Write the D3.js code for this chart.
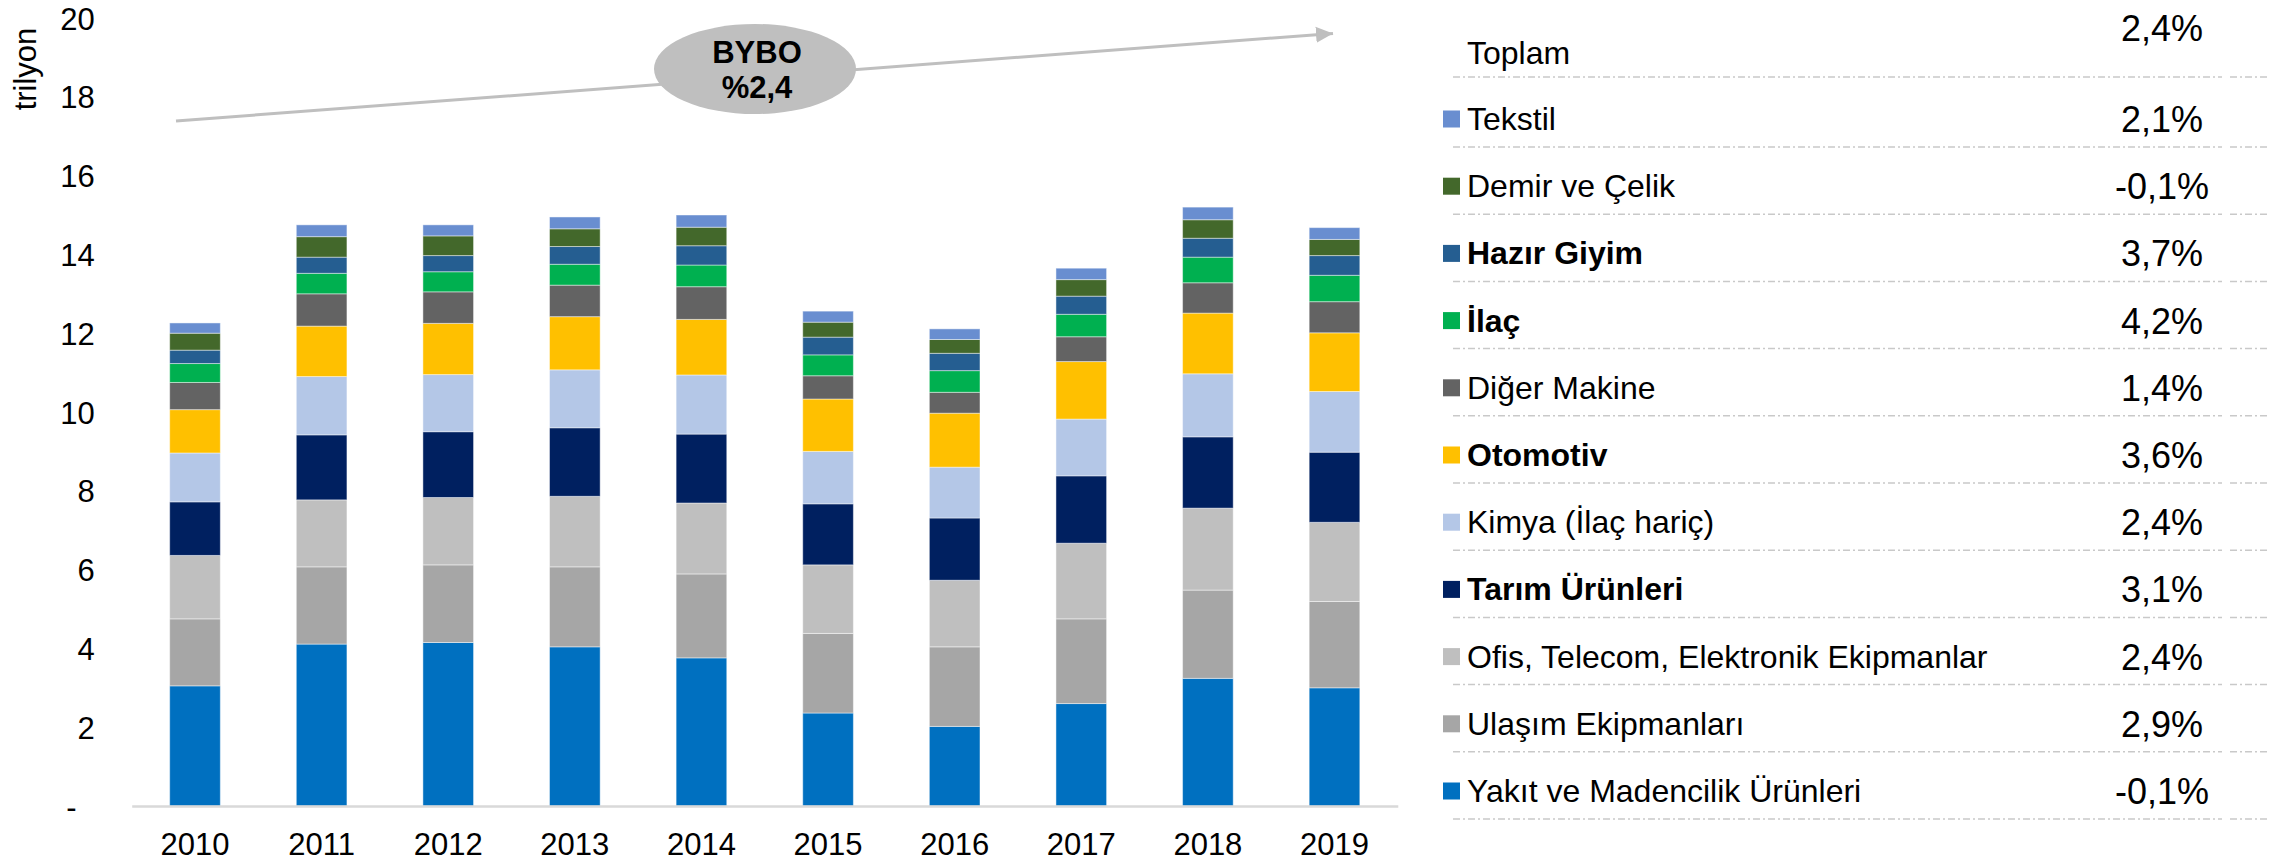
<!DOCTYPE html>
<html>
<head>
<meta charset="utf-8">
<script src="https://cdn.jsdelivr.net/npm/d3@7"></script>
<style>
  body { margin: 0; background: #fff; }
  svg text { font-family: Arial, "Liberation Sans", sans-serif; fill: #000; }
</style>
</head>
<body>
<div id="content"></div>
<script>
// data (trilyon)
var years       = ["2010","2011","2012","2013","2014","2015","2016","2017","2018","2019"];
var totalLabels = [15, 18, 19, 19, 19, 17, 16, 18, 19, 19];

var yakit       = [3.05, 4.11, 4.15, 4.04, 3.76, 2.36, 2.02, 2.60, 3.24, 3.00];
var ulasim      = [1.70, 1.96, 1.97, 2.03, 2.13, 2.02, 2.02, 2.15, 2.24, 2.19];
var ofis        = [1.61, 1.70, 1.71, 1.79, 1.80, 1.74, 1.69, 1.92, 2.08, 2.01];
var tarim       = [1.36, 1.65, 1.67, 1.74, 1.75, 1.55, 1.58, 1.71, 1.81, 1.78];
var kimya       = [1.24, 1.48, 1.45, 1.47, 1.50, 1.33, 1.29, 1.44, 1.60, 1.54];
var otomotiv    = [1.10, 1.28, 1.30, 1.35, 1.41, 1.33, 1.37, 1.46, 1.54, 1.49];
var digerMakine = [0.69, 0.82, 0.80, 0.80, 0.83, 0.59, 0.53, 0.63, 0.77, 0.79];
var ilac        = [0.48, 0.52, 0.51, 0.53, 0.55, 0.53, 0.55, 0.57, 0.65, 0.67];
var hazirGiyim  = [0.34, 0.41, 0.41, 0.45, 0.49, 0.45, 0.44, 0.46, 0.48, 0.50];
var demirCelik  = [0.43, 0.52, 0.50, 0.45, 0.47, 0.38, 0.35, 0.42, 0.47, 0.41];
var tekstil     = [0.26, 0.30, 0.28, 0.30, 0.31, 0.28, 0.27, 0.29, 0.32, 0.30];

// stack order, bottom to top
var seriesKeys   = ["yakit","ulasim","ofis","tarim","kimya","otomotiv","digerMakine","ilac","hazirGiyim","demirCelik","tekstil"];
var seriesValues = [yakit, ulasim, ofis, tarim, kimya, otomotiv, digerMakine, ilac, hazirGiyim, demirCelik, tekstil];
var seriesNames  = ["Yakıt ve Madencilik Ürünleri","Ulaşım Ekipmanları","Ofis, Telecom, Elektronik Ekipmanlar",
                    "Tarım Ürünleri","Kimya (İlaç hariç)","Otomotiv","Diğer Makine","İlaç","Hazır Giyim",
                    "Demir ve Çelik","Tekstil"];
var seriesGrowth = ["-0,1%","2,9%","2,4%","3,1%","2,4%","3,6%","1,4%","4,2%","3,7%","-0,1%","2,1%"];
var seriesBold   = [false, false, false, true, false, true, false, true, true, false, false];
var colors       = ["#0070c0","#a6a6a6","#bfbfbf","#002060","#b4c7e7","#ffc000","#636363","#00b050","#255e91","#43682b","#698ed0"];

var totalName   = "Toplam";
var totalGrowth = "2,4%";
var cagrTitle   = "BYBO";
var cagrValue   = "%2,4";
var yTicks      = [0, 2, 4, 6, 8, 10, 12, 14, 16, 18, 20];

var W = 2295, H = 861;
var svg = d3.select("#content").append("svg")
    .attr("width", W)
    .attr("height", H);

var fs = 31;
var legFs = 32;

var x = d3.scaleBand().domain(years).range([131.7, 1397.8]).paddingInner(0.6).paddingOuter(0.3);
var y = d3.scaleLinear().domain([0, 20]).range([806, 18]);

// rows for the stack
var rows = years.map(function(yr, i){
    var r = {year: yr};
    seriesKeys.forEach(function(k, j){ r[k] = seriesValues[j][i]; });
    return r;
});
var stacked = d3.stack().keys(seriesKeys)(rows);

//y axis
var yAxis = svg.append("g")
    .attr("transform", "translate(131.7,0)")
    .call(d3.axisLeft(y).tickValues(yTicks).tickSize(0).tickPadding(37)
        .tickFormat(function(d){ return d === 0 ? "-" : d; }));
yAxis.select(".domain").remove();
yAxis.selectAll("text")
    .style("font-size", fs + "px")
    .attr("dy", "0.36em")
    .attr("dx", function(d){ return d === 0 ? -18 : 0; });

svg.append("text")
    .attr("transform", "translate(36,69) rotate(-90)")
    .attr("text-anchor", "middle")
    .style("font-size", fs + "px")
    .text("trilyon");

//bars
var layer = svg.append("g").selectAll("g")
    .data(stacked)
    .enter().append("g")
    .attr("fill", function(d, i){ return colors[i]; });

layer.selectAll("rect")
    .data(function(d){ return d; })
    .enter().append("rect")
    .attr("x", function(d){ return x(d.data.year); })
    .attr("y", function(d){ return y(d[1]); })
    .attr("width", x.bandwidth())
    .attr("height", function(d){ return y(d[0]) - y(d[1]); })
    .attr("stroke", "rgba(255,255,255,0.45)")
    .attr("stroke-width", 1);

//x axis
var xAxis = svg.append("g")
    .attr("transform", "translate(0,806)")
    .call(d3.axisBottom(x).tickSize(0).tickSizeOuter(0).tickPadding(27));
xAxis.select(".domain").attr("stroke", "#d9d9d9").attr("stroke-width", 2.5);
xAxis.selectAll("text").style("font-size", fs + "px");

//total labels
var top = stacked[stacked.length - 1];
svg.append("g").selectAll("text")
    .data(top)
    .enter().append("text")
    .attr("x", function(d){ return x(d.data.year) + x.bandwidth() / 2; })
    .attr("y", function(d){ return y(d[1]) - 17; })
    .attr("text-anchor", "middle")
    .style("font-size", fs + "px")
    .text(function(d, i){ return totalLabels[i]; });

//trend arrow with ellipse
var defs = svg.append("defs");
defs.append("marker")
    .attr("id", "head")
    .attr("markerUnits", "userSpaceOnUse")
    .attr("viewBox", "0 -9 17 18")
    .attr("refX", 17).attr("refY", 0)
    .attr("markerWidth", 17).attr("markerHeight", 18)
    .attr("orient", "auto")
    .append("path")
    .attr("d", "M0,-8L17,0L0,8Z")
    .attr("fill", "#bfbfbf");

svg.append("line")
    .attr("x1", 176).attr("y1", 121)
    .attr("x2", 1333).attr("y2", 33.5)
    .attr("stroke", "#bfbfbf")
    .attr("stroke-width", 3)
    .attr("marker-end", "url(#head)");

svg.append("ellipse")
    .attr("cx", 755).attr("cy", 69)
    .attr("rx", 101).attr("ry", 45)
    .attr("fill", "#bfbfbf");
svg.append("text").attr("x", 757).attr("y", 63)
    .attr("text-anchor", "middle").style("font-size", fs + "px").style("font-weight", "bold")
    .text(cagrTitle);
svg.append("text").attr("x", 757).attr("y", 98)
    .attr("text-anchor", "middle").style("font-size", fs + "px").style("font-weight", "bold")
    .text(cagrValue);

//legend table on the right
var legendOrder = d3.range(seriesKeys.length).reverse();
var rowY = d3.scalePoint().domain(legendOrder).range([119, 791]);
var pctX = 2162;
var leg = svg.append("g");

function sepLine(yy){
    [[1453, 2222], [2230, 2270]].forEach(function(s){
        leg.append("line")
            .attr("x1", s[0]).attr("x2", s[1])
            .attr("y1", yy).attr("y2", yy)
            .attr("stroke", "#c9c9c9")
            .attr("stroke-width", 1.5)
            .attr("stroke-dasharray", "7 3 2 3");
    });
}

leg.append("text").attr("x", 1467).attr("y", 53 + 11)
    .style("font-size", legFs + "px").text(totalName);
leg.append("text").attr("x", pctX).attr("y", 28 + 13)
    .attr("text-anchor", "middle").style("font-size", "36px").text(totalGrowth);
sepLine(77);

legendOrder.forEach(function(j){
    var cy = rowY(j);
    leg.append("rect")
        .attr("x", 1443).attr("y", cy - 8.5)
        .attr("width", 17).attr("height", 17)
        .attr("fill", colors[j]);
    leg.append("text")
        .attr("x", 1467).attr("y", cy + 11)
        .style("font-size", legFs + "px")
        .style("font-weight", seriesBold[j] ? "bold" : "normal")
        .text(seriesNames[j]);
    leg.append("text")
        .attr("x", pctX).attr("y", cy + 13)
        .attr("text-anchor", "middle")
        .style("font-size", "36px")
        .text(seriesGrowth[j]);
    sepLine(cy + 28);
});
</script>
</body>
</html>
